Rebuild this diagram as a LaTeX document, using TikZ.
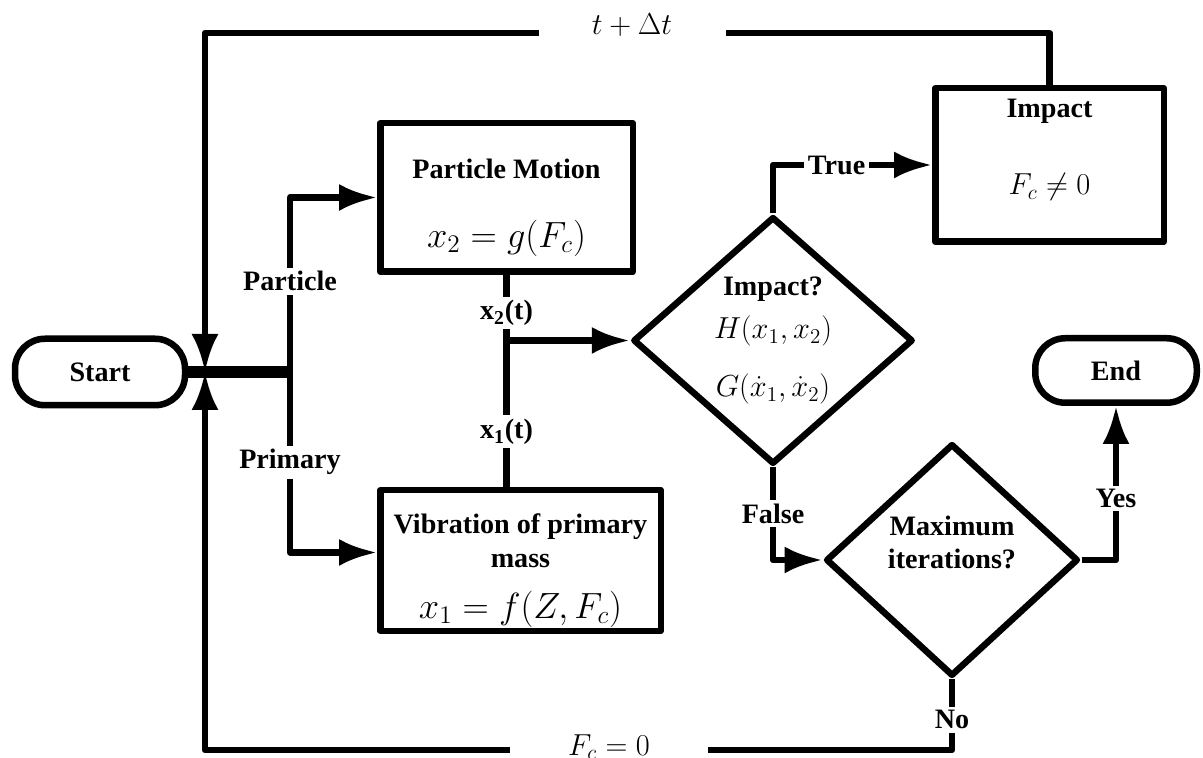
\documentclass[tikz,border=0pt]{standalone}
\usepackage{fontspec}
\setmainfont{Liberation Serif}
\usetikzlibrary{arrows.meta,shapes.geometric,positioning}
\tikzset{>={Latex[length=0.76cm,width=0.54cm]}}
\tikzset{
  block/.style={draw,rectangle,align=center,inner sep=2pt,font=\bfseries\fontsize{16}{19}\selectfont},
  terminal/.style={block,rounded corners=0.6cm},
  decision/.style={draw,diamond,aspect=1.15,align=center,inner sep=0pt,font=\bfseries\fontsize{16}{19}\selectfont},
  tag/.style={fill=white,inner sep=2pt,font=\bfseries\fontsize{16}{19}\selectfont},
  mathtag/.style={fill=white,inner xsep=0pt,inner ysep=3pt,font=\fontsize{17}{20}\selectfont},
}
\newcommand{\eqbig}[1]{{\fontsize{21}{25}\selectfont$#1$}}
\newcommand{\eqmid}[1]{{\fontsize{17}{20}\selectfont$#1$}}

\begin{document}
\begin{tikzpicture}[line width=0.13cm,line join=round]
  \useasboundingbox (0,0) rectangle (24.06,15.16);
  % start and end
  \node[terminal,minimum width=3.4cm,minimum height=1.33cm] (start) at (2.0,7.72) {Start};
  \node[terminal,minimum width=3.23cm,minimum height=1.29cm] (end) at (22.32,7.75) {End};
  % process blocks
  \node[block,minimum width=5.05cm,minimum height=2.97cm] (particle) at (10.13,11.21)
    {\rule{0pt}{23pt}Particle Motion\\[20pt]\eqbig{x_2 = g(F_c)}};
  \node[block,minimum width=5.61cm,minimum height=2.81cm] (vib) at (10.41,3.95)
    {\rule{0pt}{23pt}Vibration of primary\\mass\\[10pt]\eqbig{x_1 = f(Z,F_c)}};
  \node[block,minimum width=4.57cm,minimum height=3.07cm] (impbox) at (20.99,11.86) {};
  \node[align=center,font=\bfseries\fontsize{16}{19}\selectfont] (imptxt) at ([yshift=0.3cm]impbox.center)
    {Impact\\[25pt]\eqmid{F_c \neq 0}};
  % decisions
  \node[decision,minimum width=5.6cm,minimum height=4.95cm] (imp) at (15.46,8.35)
    {Impact?\\[6pt]\eqmid{H(x_1,x_2)}\\[14pt]\eqmid{G(\dot{x}_1,\dot{x}_2)}};
  \node[decision,minimum width=5.05cm,minimum height=4.65cm] (maxd) at (19.04,3.96)
    {Maximum\\iterations?\\[1pt]\mbox{}};
  % helper points
  \coordinate (J) at (4.1,7.72);
  \coordinate (S) at (5.8,7.72);
  \coordinate (topy) at (0,14.5);
  \coordinate (boty) at (0,0.16);
  \coordinate (K) at (particle.south |- imp.west);
  % connectors
  \draw[line width=0.24cm] (start.east) -- (S);
  \draw[->] (S) |- node[tag,pos=0.26] (ptag) {Particle} (particle.west);
  \draw[->] (S) |- node[tag,pos=0.25] (mtag) {Primary} ([yshift=0.16cm]vib.west);
  \draw (particle.south) -- node[tag,pos=0.18] (x2tag) {x\textsubscript{2}(t)}
    node[tag,pos=0.74] (x1tag) {x\textsubscript{1}(t)} (particle.south |- vib.north);
  \draw[->] (K) -- (imp.west);
  \draw[->] (imp.north) |- node[tag,pos=0.7] (ttag) {True} (impbox.west);
  \draw[->] (imp.south) |- node[tag,pos=0.25] (ftag) {False} (maxd.west);
  \draw[->] (maxd.east) -| node[tag,pos=0.7] (ytag) {Yes} (end.south);
  % feedback loops
  \draw[->] (impbox.north) -- (impbox.north |- topy) -| (J);
  \node[mathtag,minimum width=3.74cm] (dt) at (12.64,14.66) {$t + \Delta t$};
  \draw[->] (maxd.south) -- node[tag,pos=0.57] (ntag) {No} (maxd.south |- boty) -| (J);
  \node[mathtag,minimum width=3.96cm] (fc0) at (12.18,0.22) {$F_c = 0$};
\end{tikzpicture}
\end{document}
